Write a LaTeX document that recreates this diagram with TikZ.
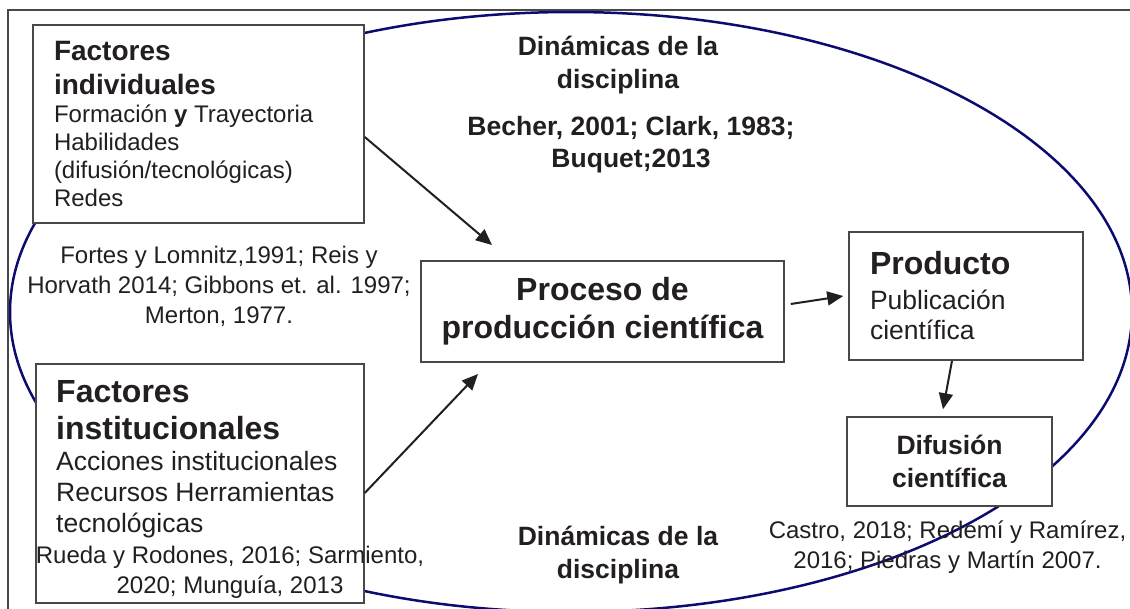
\documentclass[tikz,border=0pt]{standalone}
\usepackage{fontspec}
\setmainfont{Liberation Sans}
\usetikzlibrary{arrows.meta}

\definecolor{navyline}{RGB}{12,12,112}
\definecolor{inkgray}{RGB}{35,31,32}
\definecolor{boxgray}{RGB}{72,72,72}
\newcommand{\fsize}[2]{\fontsize{#1}{#2}\selectfont\spaceskip=0pt\xspaceskip=0pt}

\begin{document}
\begin{tikzpicture}[x=1pt,y=-1pt,
    box/.style={draw=boxgray, line width=1.5pt, fill=white, inner sep=0pt},
    cite/.style={align=center, inner sep=0pt, anchor=north, font=\fsize{24}{30}},
    dyn/.style={align=center, inner sep=0pt, anchor=north, font=\fsize{26.5}{33}\bfseries},
    arrow/.style={-{Triangle[length=16pt,width=14pt]}, line width=2pt, draw=inkgray},
    every node/.style={text=inkgray}]
                \useasboundingbox (0,0) rectangle (1130,608);
                \clip (0,0) rectangle (1130,608);

                \draw[line width=2.5pt, draw=boxgray] (8,10) rectangle (1150,630);
                \draw[line width=2.5pt, draw=navyline] (571,312) ellipse [x radius=561pt, y radius=300pt];

                \node[box, minimum width=331pt, minimum height=198pt, text width=289pt, inner xsep=21pt, align=left] (ind) at (198.5,124)
                    {{\fsize{28}{34}\bfseries Factores\\ individuales\par}
                     {\fsize{24}{28}Formación {\bfseries y} Trayectoria\\ Habilidades\\ (difusión/tecnológicas)\\ Redes\par}};
                \node[box, minimum width=328pt, minimum height=239pt] (inst) at (200,483.5) {};
                \node[box, minimum width=363pt, minimum height=101pt, align=center, font=\fsize{32}{38}\bfseries] (proc) at (602.5,311.5)
                    {Proceso de\\ producción científica};
                \node[box, minimum width=234pt, minimum height=128pt, text width=192pt, inner xsep=21pt, align=left] (prod) at (966,296)
                    {{\fsize{32}{38}\bfseries Producto\par}\vskip5pt
                     {\fsize{26.5}{30}Publicación\\ científica\par}};
                \node[box, minimum width=205pt, minimum height=89pt, align=center, font=\fsize{26.5}{33}\bfseries] (dif) at (949.5,461.5)
                    {Difusión\\ científica};

                \node[inner sep=0pt, anchor=north west, text width=300pt, align=left] (insttxt) at (56,380)
                    {{\fsize{32}{37}\bfseries Factores\\ institucionales\par}
                     {\fsize{26.5}{31}Acciones institucionales\\ Recursos Herramientas\\ tecnológicas\par}};

                \node[dyn] (dyntop) at (618,35.5) {Dinámicas de la\\ disciplina};
                \node[dyn, font=\fsize{26.5}{32}\bfseries] (bib) at (631,116) {Becher, 2001; Clark, 1983;\\ Buquet;2013};
                \node[dyn] (dynbot) at (618,525.5) {Dinámicas de la\\ disciplina};
                \node[cite] (citeind) at (219,245.5) {Fortes y Lomnitz,1991; Reis y\\ Horvath 2014; Gibbons et. al. 1997;\\ Merton, 1977.};
                \node[cite] (citeinst) at (230,545.5) {Rueda y Rodones, 2016; Sarmiento,\\ 2020; Munguía, 2013};
                \node[cite] (citedif) at (947.5,520.5) {Castro, 2018; Redemí y Ramírez,\\ 2016; Piedras y Martín 2007.};

                \coordinate (tipind) at (492,245);
                \coordinate (tipinst) at (478,374);
                \draw[arrow] ([yshift=-13pt]ind.east) -- (tipind);
                \draw[arrow] ([yshift=-9.5pt]inst.east) -- (tipinst);
                \draw[arrow] ([shift={(6pt,7.5pt)}]proc.east) -- ([xshift=-5pt]prod.west);
                \draw[arrow] ([xshift=-14pt]prod.south) -- ([shift={(-6.5pt,7pt)}]dif.north);
            \end{tikzpicture}
\end{document}
